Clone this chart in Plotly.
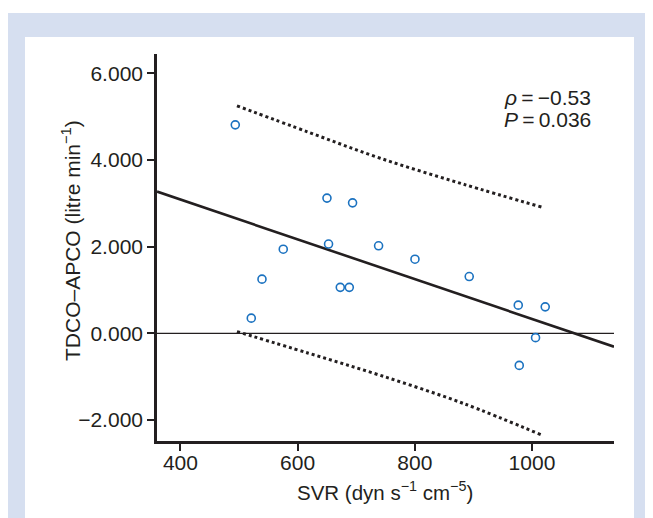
import plotly.graph_objects as go

# Data
svr = [493.6, 520.9, 539.2, 575.5, 650.1, 652.8, 672.8, 688.2, 693.8,
       738.2, 800.3, 892.9, 976.6, 978.3, 1006.1, 1022.6]
diff = [4.81, 0.35, 1.25, 1.94, 3.12, 2.06, 1.06, 1.06, 3.01,
        2.02, 1.71, 1.31, 0.65, -0.74, -0.10, 0.61]

reg_x = [360, 1140]
reg_y = [3.27, -0.31]

band_x = [496.5, 618.7, 741.0, 883.2, 1017.0]
upper_y = [5.25, 4.64, 4.04, 3.44, 2.91]
lower_y = [0.04, -0.46, -0.97, -1.62, -2.35]

zero_x = [360, 1140]
zero_y = [0, 0]

x_ticks = [400, 600, 800, 1000]
y_ticks = [-2, 0, 2, 4, 6]

INK = "#231f20"
BLUE = "#1b72c0"
FONT = "Liberation Sans, Arial, sans-serif"

# page body has an 8px margin; work in page pixels and shift
OFF = 8
W, H = 653 - OFF, 518 - OFF
L, R, T, B = 157, 614, 54, 441          # plot area in page px
pw, ph = R - L, B - T

def px(xp):
    return (xp - L) / pw

def py(yp):
    return (B - yp) / ph

fig = go.Figure()

fig.add_trace(go.Scatter(x=zero_x, y=zero_y, mode="lines",
                         line=dict(color=INK, width=1.3), hoverinfo="skip"))
fig.add_trace(go.Scatter(x=band_x, y=upper_y, mode="lines",
                         line=dict(color=INK, width=3, dash="3px,3px", shape="spline")))
fig.add_trace(go.Scatter(x=band_x, y=lower_y, mode="lines",
                         line=dict(color=INK, width=3, dash="3px,3px", shape="spline")))
fig.add_trace(go.Scatter(x=reg_x, y=reg_y, mode="lines",
                         line=dict(color=INK, width=2.6)))
fig.add_trace(go.Scatter(x=svr, y=diff, mode="markers",
                         marker=dict(symbol="circle-open", size=8, color=BLUE,
                                     line=dict(width=1.6, color=BLUE))))

# background frame
fig.add_shape(type="rect", xref="paper", yref="paper", layer="below",
              x0=px(6), x1=px(647), y0=py(540), y1=py(13),
              fillcolor="#d6dff0", line=dict(width=0))
fig.add_shape(type="rect", xref="paper", yref="paper", layer="below",
              x0=px(25), x1=px(634), y0=py(540), y1=py(37),
              fillcolor="white", line=dict(width=0))

fig.add_annotation(xref="paper", yref="paper", x=px(502), y=py(97),
                   xanchor="left", yanchor="middle", showarrow=False,
                   text="<i>ρ</i>\u2009=\u2009−0.53", font=dict(size=21, color=INK, family=FONT))
fig.add_annotation(xref="paper", yref="paper", x=px(502), y=py(120),
                   xanchor="left", yanchor="middle", showarrow=False,
                   text="<i>P</i>\u2009=\u20090.036", font=dict(size=21, color=INK, family=FONT))

fig.add_annotation(xref="paper", yref="paper", x=px(385), y=py(491),
                   xanchor="center", yanchor="middle", showarrow=False,
                   text="SVR (dyn s<sup>−1</sup> cm<sup>−5</sup>)",
                   font=dict(size=20.5, color=INK, family=FONT))
fig.add_annotation(xref="paper", yref="paper", x=px(71), y=py(241),
                   xanchor="center", yanchor="middle", showarrow=False, textangle=-90,
                   text="TDCO–APCO (litre min<sup>−1</sup>)",
                   font=dict(size=21, color=INK, family=FONT))

fig.update_layout(
    width=W, height=H,
    margin=dict(l=L - OFF, r=(W + OFF) - R, t=T - OFF, b=(H + OFF) - B, autoexpand=False),
    paper_bgcolor="white", plot_bgcolor="rgba(0,0,0,0)",
    showlegend=False,
    font=dict(family=FONT, size=21, color=INK),
    xaxis=dict(range=[360, 1140], tickvals=x_ticks, showgrid=False, zeroline=False,
               showline=True, linecolor=INK, linewidth=2.6,
               ticks="outside", ticklen=7, tickwidth=2, tickcolor=INK,
               ticklabelstandoff=-6,
               tickfont=dict(size=21, color=INK, family=FONT)),
    yaxis=dict(range=[-2.485, 6.445], tickvals=y_ticks, tickformat=".3f",
               showgrid=False, zeroline=False,
               showline=True, linecolor=INK, linewidth=2.6,
               ticks="outside", ticklen=7, tickwidth=2, tickcolor=INK,
               tickfont=dict(size=21, color=INK, family=FONT)),
)

fig.write_html("out.html")
